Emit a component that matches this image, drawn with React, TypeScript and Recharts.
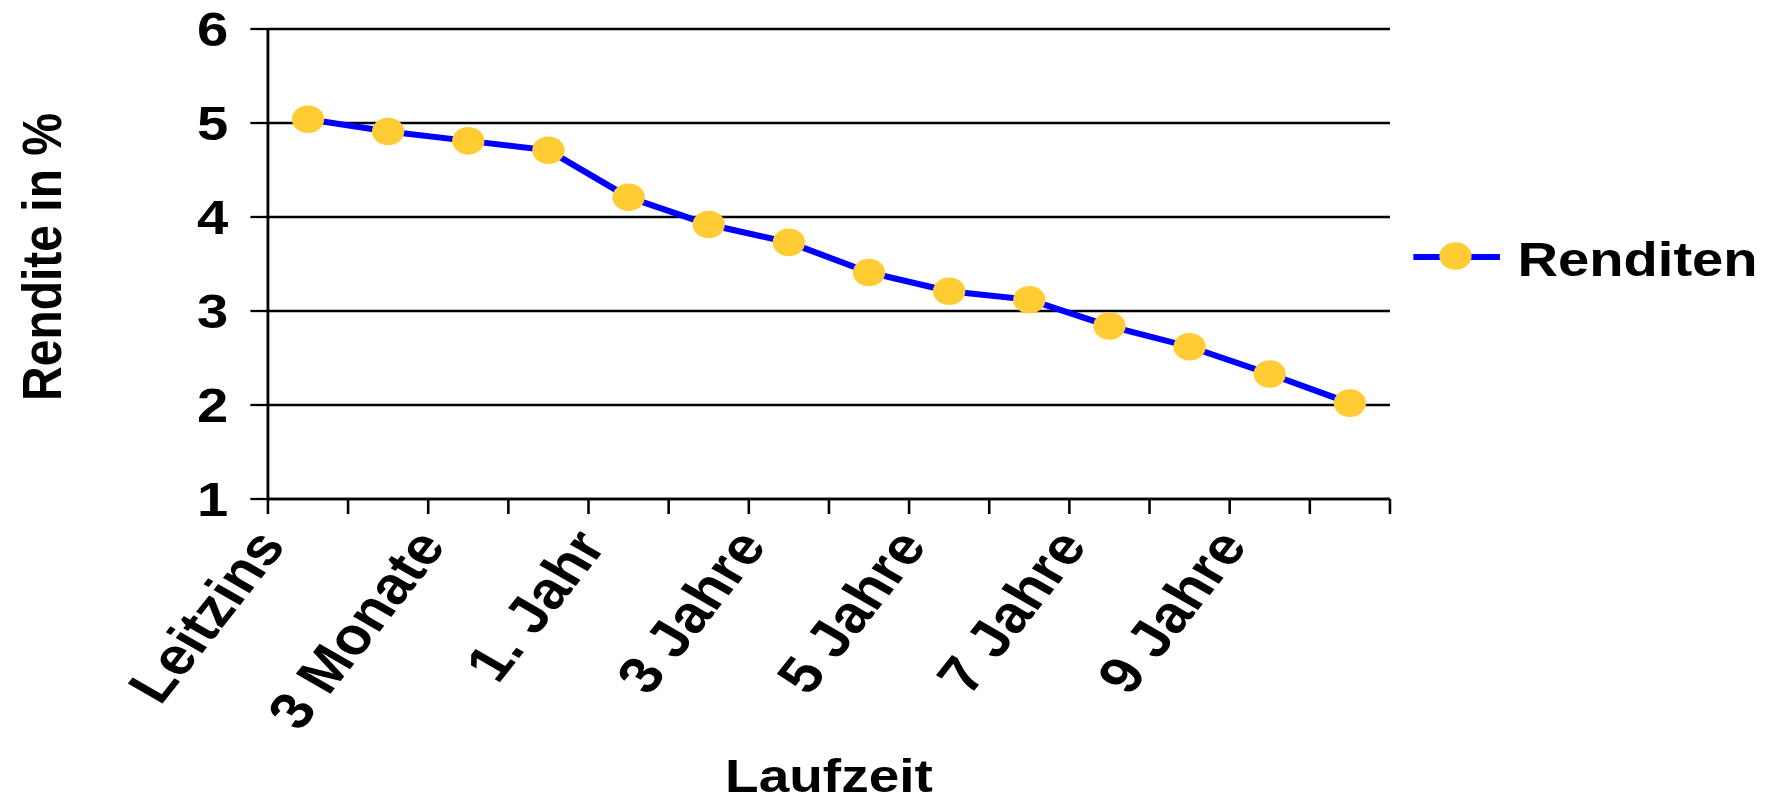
import React from 'react';
import { LineChart, Line, XAxis, YAxis, CartesianGrid, Legend } from 'recharts';

// Laufzeiten (jede zweite wird beschriftet)
const laufzeiten = [
  'Leitzins', '1 Monat', '3 Monate', '6 Monate', '1. Jahr', '2 Jahre', '3 Jahre',
  '4 Jahre', '5 Jahre', '6 Jahre', '7 Jahre', '8 Jahre', '9 Jahre', '10 Jahre',
];
// Renditen in %
const renditen = [5.04, 4.91, 4.81, 4.71, 4.21, 3.92, 3.73, 3.41, 3.21, 3.12, 2.84, 2.62, 2.33, 2.02];
const yTicks = [1, 2, 3, 4, 5, 6];

const data = laufzeiten.map((name, i) => ({ name, rendite: renditen[i] }));

// the source image is stretched horizontally, so the whole chart is too
const STRETCH = 1.17;
const W = 1514;
const H = 803;
const FONT = '"Liberation Sans", Arial, Helvetica, sans-serif';
const YELLOW = '#FFCC33';
const BLUE = '#0000FF';

function XTick(props: any) {
  const { x, y, payload, index } = props;
  const off = payload.offset || 0;
  const last = index === laufzeiten.length - 1;
  const lx = x - 18;
  const ly = y + 47;
  return (
    <g>
      <line x1={x - off} x2={x - off} y1={y} y2={y + 15} stroke="#000" strokeWidth={2.2} />
      {last && <line x1={x + off} x2={x + off} y1={y} y2={y + 15} stroke="#000" strokeWidth={2.2} />}
      {index % 2 === 0 && (
        <text
          x={lx}
          y={ly}
          transform={`rotate(-56 ${lx} ${ly})`}
          textAnchor="end"
          fontFamily={FONT}
          fontWeight="bold"
          fontSize={52}
          fill="#000"
        >
          {payload.value}
        </text>
      )}
    </g>
  );
}

function LegendBox() {
  return (
    <svg width={320} height={60} style={{ display: 'block' }}>
      <line x1={0} x2={74} y1={30} y2={30} stroke={BLUE} strokeWidth={6} />
      <circle cx={36} cy={29} r={13.8} fill={YELLOW} />
      <text x={89} y={49} fontFamily={FONT} fontWeight="bold" fontSize={48} fill="#000">
        Renditen
      </text>
    </svg>
  );
}

export default function App() {
  return (
    <div
      style={{
        position: 'absolute',
        left: 0,
        top: 0,
        width: W,
        height: H,
        background: '#fff',
        transform: `scaleX(${STRETCH})`,
        transformOrigin: '0 0',
      }}
    >
      <LineChart width={W} height={H} data={data} margin={{ top: 29, right: 326, bottom: 0, left: 0 }}>
        <CartesianGrid vertical={false} stroke="#000" strokeWidth={2.3} />
        <XAxis
          dataKey="name"
          scale="band"
          interval={0}
          height={304}
          tickSize={0}
          tickMargin={0}
          tickLine={false}
          axisLine={{ stroke: '#000', strokeWidth: 2.6 }}
          tick={<XTick />}
          label={{
            content: (p: any) => (
              <text
                x={p.viewBox.x + p.viewBox.width / 2}
                y={792}
                textAnchor="middle"
                fontFamily={FONT}
                fontWeight="bold"
                fontSize={47}
                fill="#000"
              >
                Laufzeit
              </text>
            ),
          }}
        />
        <YAxis
          domain={[1, 6]}
          ticks={yTicks}
          width={229}
          tickSize={15}
          tickMargin={19}
          axisLine={{ stroke: '#000', strokeWidth: 2.4 }}
          tickLine={{ stroke: '#000', strokeWidth: 2.3 }}
          tick={{ fill: '#000', fontFamily: FONT, fontWeight: 'bold', fontSize: 48 }}
          label={{
            content: () => (
              <text
                x={52}
                y={257}
                transform="rotate(-90 52 257)"
                textAnchor="middle"
                fontFamily={FONT}
                fontWeight="bold"
                fontSize={48}
                fill="#000"
              >
                Rendite in %
              </text>
            ),
          }}
        />
        <YAxis
          yAxisId="rand"
          orientation="right"
          domain={[1, 6]}
          width={0}
          tick={false}
          tickLine={false}
          axisLine={{ stroke: '#000', strokeWidth: 2.4 }}
        />
        <Legend
          layout="horizontal"
          align="center"
          verticalAlign="middle"
          wrapperStyle={{ left: 1208, top: 227, width: 320, height: 60 }}
          content={() => <LegendBox />}
        />
        <Line
          type="linear"
          dataKey="rendite"
          name="Renditen"
          stroke={BLUE}
          strokeWidth={6}
          dot={{ r: 13.8, fill: YELLOW, stroke: 'none' }}
          activeDot={false}
          isAnimationActive={false}
        />
      </LineChart>
    </div>
  );
}
